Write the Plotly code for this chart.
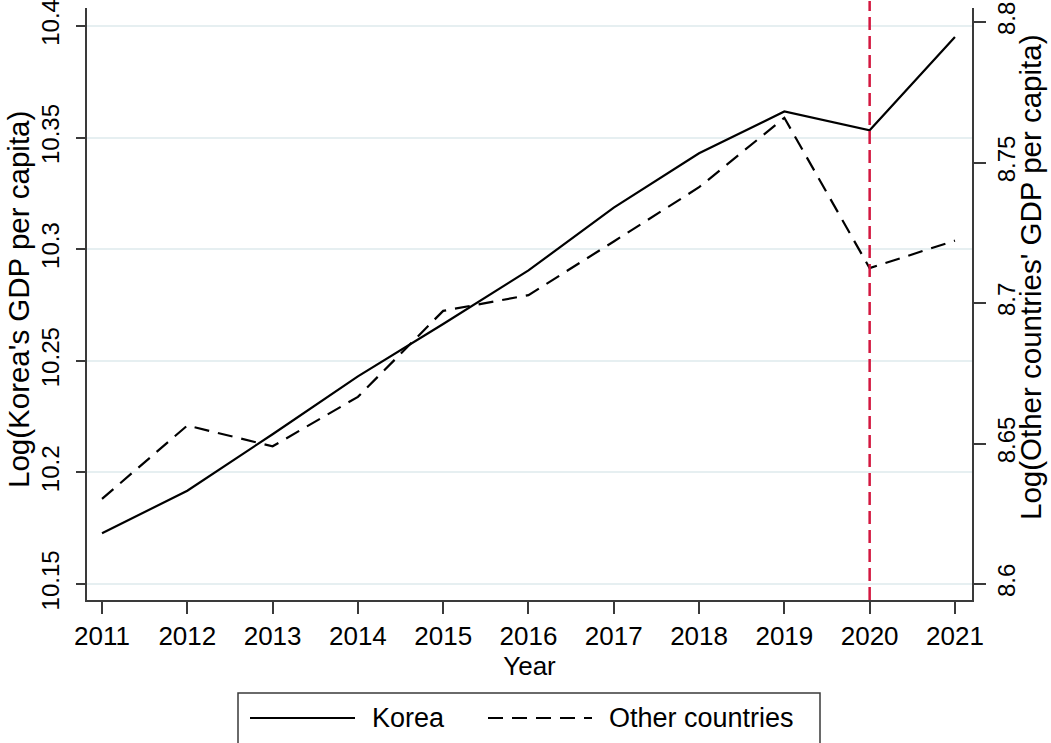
import plotly.graph_objects as go

# Annual log GDP per capita, 2011-2021
years = [2011, 2012, 2013, 2014, 2015, 2016, 2017, 2018, 2019, 2020, 2021]
korea = [10.1727, 10.1918, 10.2171, 10.2430, 10.2665, 10.2905, 10.3186, 10.3430, 10.3617, 10.3533, 10.3951]
others = [8.6303, 8.6564, 8.6490, 8.6666, 8.6972, 8.7028, 8.7219, 8.7412, 8.7659, 8.7124, 8.7222]

left_ticks = [10.15, 10.2, 10.25, 10.3, 10.35, 10.4]
left_labels = ["10.15", "10.2", "10.25", "10.3", "10.35", "10.4"]
right_ticks = [8.6, 8.65, 8.7, 8.75, 8.8]
right_labels = ["8.6", "8.65", "8.7", "8.75", "8.8"]
event_year = 2020

FONT = "Liberation Sans, Arial, Helvetica, sans-serif"
AXIS_COLOR = "#3a3a3a"
FS_XTICK = 26
FS_YTICK = 24
FS_TITLE = 29.5
FS_LEGEND = 27

fig = go.Figure()
fig.add_trace(go.Scatter(x=years, y=korea, mode="lines", name="Korea",
                         line=dict(color="black", width=2.2), yaxis="y"))
fig.add_trace(go.Scatter(x=years, y=others, mode="lines", name="Other countries",
                         line=dict(color="black", width=2.2, dash="15px,9px"), yaxis="y2"))

# vertical marker at the event year
fig.add_shape(type="line", xref="x", yref="paper", x0=event_year, x1=event_year, y0=0, y1=1.012,
              line=dict(color="#d3173f", width=2.5, dash="13px,6px"), layer="above")

# pixel helpers for the plot box (left edge 87, bottom 600, size 885 x 592)
PW, PH, PL, PB = 885, 592, 87, 600


def px_x(px):
    return (px - PL) / PW


def px_y(py):
    return (PB - py) / PH


# vertical axis titles
fig.add_annotation(xref="paper", yref="paper", x=px_x(18), y=px_y(300),
                   text="Log(Korea's GDP per capita)", textangle=-90, showarrow=False,
                   xanchor="center", yanchor="middle",
                   font=dict(family=FONT, size=FS_TITLE, color="black"))
fig.add_annotation(xref="paper", yref="paper", x=px_x(1030), y=px_y(277),
                   text="Log(Other countries' GDP per capita)", textangle=-90, showarrow=False,
                   xanchor="center", yanchor="middle",
                   font=dict(family=FONT, size=FS_TITLE, color="black"))

# legend box drawn below the plot
fig.add_shape(type="rect", xref="paper", yref="paper", x0=px_x(238), x1=px_x(820),
              y0=px_y(760), y1=px_y(693), line=dict(color=AXIS_COLOR, width=1.5),
              fillcolor="white")
ly = px_y(718)
fig.add_shape(type="line", xref="paper", yref="paper", x0=px_x(250), x1=px_x(355),
              y0=ly, y1=ly, line=dict(color="black", width=2.2))
fig.add_shape(type="line", xref="paper", yref="paper", x0=px_x(488), x1=px_x(592),
              y0=ly, y1=ly, line=dict(color="black", width=2.2, dash="15px,9px"))
fig.add_annotation(xref="paper", yref="paper", x=px_x(370), y=ly, text="Korea",
                   showarrow=False, xanchor="left", yanchor="middle",
                   font=dict(family=FONT, size=FS_LEGEND, color="black"))
fig.add_annotation(xref="paper", yref="paper", x=px_x(607), y=ly, text="Other countries",
                   showarrow=False, xanchor="left", yanchor="middle",
                   font=dict(family=FONT, size=FS_LEGEND, color="black"))

fig.update_layout(
    width=1051, height=743,
    margin=dict(l=87, r=79, t=8, b=143),
    paper_bgcolor="white", plot_bgcolor="white",
    showlegend=False,
    font=dict(family=FONT, size=FS_XTICK, color="black"),
    xaxis=dict(
        range=[2010.824, 2021.2], tickvals=years, ticktext=[str(y) for y in years],
        showgrid=False, zeroline=False, showline=True, linecolor=AXIS_COLOR, linewidth=1.5,
        ticks="outside", ticklen=12, tickwidth=1.5, tickcolor=AXIS_COLOR,
        title=dict(text="Year", standoff=2, font=dict(size=FS_XTICK)),
        tickfont=dict(size=FS_XTICK), automargin=False,
    ),
    yaxis=dict(
        range=[10.14283, 10.40806], tickvals=left_ticks, ticktext=left_labels,
        showgrid=True, gridcolor="#e6eff1", gridwidth=1.5, zeroline=False,
        showline=True, linecolor=AXIS_COLOR, linewidth=1.5,
        ticks="outside", ticklen=9, tickwidth=1.5, tickcolor=AXIS_COLOR,
        tickangle=-90, tickfont=dict(size=FS_YTICK), ticklabeloverflow="allow",
        ticklabelstandoff=8, automargin=False,
    ),
    yaxis2=dict(
        range=[8.59431, 8.80498], tickvals=right_ticks, ticktext=right_labels,
        overlaying="y", side="right", showgrid=False, zeroline=False,
        showline=True, linecolor=AXIS_COLOR, linewidth=1.5,
        ticks="outside", ticklen=12, tickwidth=1.5, tickcolor=AXIS_COLOR,
        tickangle=-90, tickfont=dict(size=FS_YTICK), ticklabeloverflow="allow", automargin=False,
    ),
)

fig.write_html("out.html")
